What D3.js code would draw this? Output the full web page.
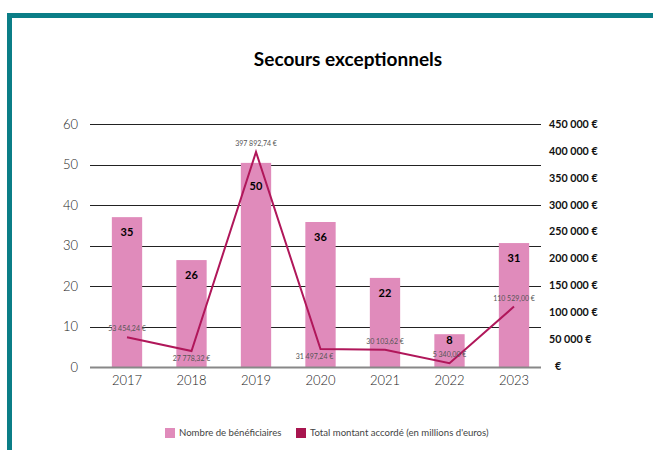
<!DOCTYPE html>
<meta charset="utf-8">
<body style="margin:0;background:#fff">
<svg width="653" height="450"></svg>
<script src="https://cdnjs.cloudflare.com/ajax/libs/d3/7.8.5/d3.min.js"></script>
<script>

// données
var annees = ["2017", "2018", "2019", "2020", "2021", "2022", "2023"];
var beneficiaires = [37, 26.4, 50.4, 35.8, 22, 8.1, 30.6];   // hauteur des barres
var beneficiairesLabels = [35, 26, 50, 36, 22, 8, 31];
var montants = [53454.24, 27778.32, 397892.74, 31497.24, 30103.62, 5340.00, 110529.00];
var leftTicks = [0, 10, 20, 30, 40, 50, 60];
var rightTicks = [0, 50000, 100000, 150000, 200000, 250000, 300000, 350000, 400000, 450000];

var pink = "#e08bbb", crimson = "#b0175a", teal = "#0b7e87";
var font = "Lato, 'Open Sans', sans-serif";

var svg = d3.select("svg");

// cadre
svg.append("rect").attr("x", 7).attr("y", 13).attr("width", 646).attr("height", 5).attr("fill", teal);
svg.append("rect").attr("x", 7).attr("y", 13).attr("width", 5).attr("height", 437).attr("fill", teal);

svg.append("text")
  .attr("x", 348).attr("y", 66)
  .attr("text-anchor", "middle")
  .style("font-family", font).style("font-weight", "bold").style("font-size", "19px")
  .text("Secours exceptionnels");

var x = d3.scaleBand().domain(annees).range([94.75, 546.25]).paddingInner(0.53).paddingOuter(0.265);
var y = d3.scaleLinear().domain([0, 60]).range([367, 124]);
var y2 = d3.scaleLinear().domain([0, 450000]).range([366, 124]);

// grille
svg.append("g").selectAll("line").data(leftTicks.filter(d => d > 0)).enter().append("line")
  .attr("x1", 90).attr("x2", 541)
  .attr("y1", d => Math.round(y(d)) + 0.5).attr("y2", d => Math.round(y(d)) + 0.5)
  .attr("stroke", "#222").attr("stroke-width", 1);

// axe gauche
var gl = svg.append("g").attr("transform", "translate(80,0)")
  .call(d3.axisLeft(y).tickValues(leftTicks).tickSize(0).tickPadding(2));
gl.select(".domain").remove();
gl.selectAll("text").style("font-family", font).style("font-size", "13px").style("font-weight", 300).attr("fill", "#222");

// axe droit
var fr = d3.formatLocale({decimal: ",", thousands: " ", grouping: [3], currency: ["", " €"]});
var gr = svg.append("g").attr("transform", "translate(549,0)")
  .call(d3.axisRight(y2).tickValues(rightTicks).tickSize(0).tickPadding(0)
    .tickFormat(d => d === 0 ? "€" : fr.format(",")(d) + " €"));
gr.select(".domain").remove();
gr.selectAll("text").style("font-family", font).style("font-size", "10.7px").style("font-weight", "bold").attr("fill", "#111");
gr.selectAll(".tick").filter(d => d === 0).select("text").attr("x", 6);

// barres
svg.append("g").selectAll("rect").data(annees).enter().append("rect")
  .attr("x", d => x(d))
  .attr("y", (d, i) => y(beneficiaires[i]))
  .attr("width", x.bandwidth())
  .attr("height", (d, i) => y(0) - y(beneficiaires[i]))
  .attr("fill", pink);

// axe du bas
svg.append("line").attr("x1", 90).attr("x2", 541).attr("y1", 367.5).attr("y2", 367.5)
  .attr("stroke", "#888").attr("stroke-width", 2);
var gb = svg.append("g").attr("transform", "translate(0,376)")
  .call(d3.axisBottom(x).tickSize(0).tickPadding(0));
gb.select(".domain").remove();
gb.selectAll("text").style("font-family", font).style("font-size", "13px").style("font-weight", 300).attr("fill", "#222");

// étiquettes des barres
svg.append("g").selectAll("text").data(annees).enter().append("text")
  .attr("x", d => x(d) + x.bandwidth() / 2)
  .attr("y", (d, i) => y(beneficiaires[i]) + (i === 2 ? 27 : i === 5 ? 10 : 19))
  .attr("text-anchor", "middle")
  .style("font-family", font).style("font-weight", "bold").style("font-size", "11px")
  .text((d, i) => beneficiairesLabels[i]);

// courbe des montants
var line = d3.line()
  .x((d, i) => x(annees[i]) + x.bandwidth() / 2)
  .y(d => y2(d));
svg.append("path")
  .attr("d", line(montants))
  .attr("fill", "none").attr("stroke", crimson).attr("stroke-width", 2);

var below = {"2018": true, "2020": true};
svg.append("g").selectAll("text").data(montants).enter().append("text")
  .attr("x", (d, i) => x(annees[i]) + x.bandwidth() / 2 - (annees[i] === "2020" ? 6 : 0))
  .attr("y", (d, i) => below[annees[i]] ? Math.min(y2(d) + 10, 364) : y2(d) - 6)
  .attr("text-anchor", "middle")
  .style("font-family", font).style("font-size", "7px").attr("fill", "#555")
  .text(d => fr.format(",.2f")(d).replace(".", ",") + " €");

// légende
var leg = svg.append("g").attr("transform", "translate(165,428)");
leg.append("rect").attr("width", 10).attr("height", 10).attr("fill", pink);
leg.append("text").attr("x", 14).attr("y", 8)
  .style("font-family", font).style("font-size", "9.6px").attr("fill", "#444")
  .text("Nombre de bénéficiaires");
leg.append("rect").attr("x", 131).attr("width", 10).attr("height", 10).attr("fill", "#a8154f");
leg.append("text").attr("x", 145).attr("y", 8)
  .style("font-family", font).style("font-size", "9.6px").attr("fill", "#444")
  .text("Total montant accordé (en millions d'euros)");

</script>
</body>
